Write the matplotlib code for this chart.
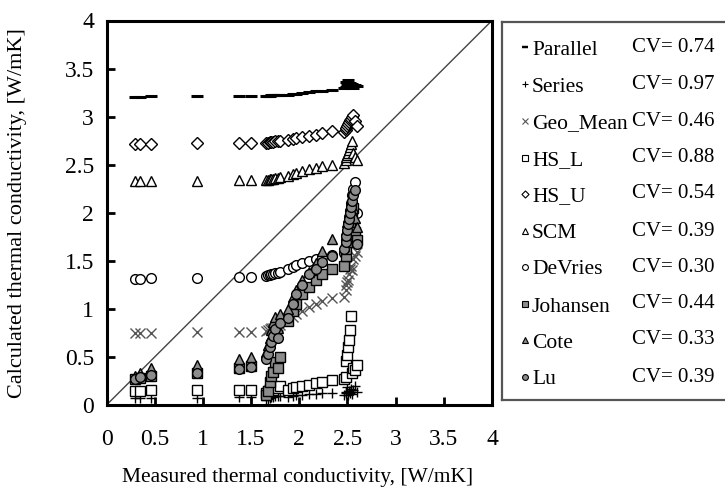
import numpy as np
import matplotlib
matplotlib.use('Agg')
import matplotlib.pyplot as plt

plt.rcParams['font.family'] = ['Liberation Serif', 'DejaVu Serif']

# measured thermal conductivity [W/mK], shared by all models
measured = [0.30, 0.35, 0.46, 0.94, 1.37, 1.50,
            1.66, 1.68, 1.70, 1.71, 1.73, 1.75, 1.78, 1.80,
            1.88, 1.93, 1.97, 2.03, 2.10, 2.17, 2.24, 2.34,
            2.46, 2.48, 2.49, 2.50, 2.51, 2.52, 2.53, 2.54, 2.55, 2.56, 2.58, 2.60]

parallel = [3.20, 3.20, 3.21, 3.21, 3.21, 3.21,
            3.21, 3.21, 3.21, 3.22, 3.22, 3.22, 3.22, 3.22,
            3.23, 3.24, 3.24, 3.25, 3.26, 3.27, 3.27, 3.28,
            3.30, 3.31, 3.36, 3.33, 3.38, 3.32, 3.35, 3.31, 3.34, 3.30, 3.33, 3.32]
series = [0.07, 0.07, 0.07, 0.07, 0.08, 0.08,
          0.05, 0.06, 0.07, 0.08, 0.08, 0.09, 0.09, 0.09,
          0.08, 0.09, 0.10, 0.10, 0.11, 0.11, 0.12, 0.13,
          0.10, 0.12, 0.14, 0.19, 0.10, 0.15, 0.13, 0.17, 0.11, 0.16, 0.20, 0.14]
geo_mean = [0.75, 0.75, 0.75, 0.76, 0.76, 0.76,
            0.77, 0.78, 0.79, 0.80, 0.80, 0.81, 0.82, 0.83,
            0.88, 0.92, 0.95, 0.98, 1.02, 1.05, 1.08, 1.11,
            1.12, 1.20, 1.25, 1.28, 1.30, 1.36, 1.42, 1.45, 1.40, 1.52, 1.55, 1.59]
hs_l = [0.15, 0.15, 0.16, 0.16, 0.16, 0.16,
        0.12, 0.15, 0.17, 0.18, 0.16, 0.19, 0.18, 0.20,
        0.16, 0.18, 0.19, 0.20, 0.21, 0.23, 0.24, 0.26,
        0.27, 0.29, 0.46, 0.52, 0.60, 0.68, 0.78, 0.93, 0.33, 0.39, 0.36, 0.42]
hs_u = [2.72, 2.72, 2.72, 2.73, 2.73, 2.73,
        2.73, 2.73, 2.74, 2.74, 2.74, 2.75, 2.75, 2.75,
        2.76, 2.77, 2.78, 2.79, 2.80, 2.81, 2.83, 2.85,
        2.84, 2.86, 2.88, 2.90, 2.92, 2.94, 2.96, 2.98, 3.00, 3.02, 2.95, 2.90]
scm = [2.33, 2.33, 2.33, 2.33, 2.34, 2.34,
       2.34, 2.34, 2.35, 2.35, 2.35, 2.36, 2.36, 2.37,
       2.38, 2.40, 2.41, 2.43, 2.45, 2.47, 2.49, 2.50,
       2.52, 2.55, 2.58, 2.60, 2.62, 2.65, 2.68, 2.72, 2.75, 2.62, 2.58, 2.55]
devries = [1.31, 1.31, 1.32, 1.32, 1.33, 1.33,
           1.34, 1.35, 1.35, 1.36, 1.36, 1.37, 1.37, 1.38,
           1.41, 1.44, 1.46, 1.48, 1.50, 1.52, 1.54, 1.56,
           1.58, 1.65, 1.72, 1.80, 1.88, 1.95, 2.02, 2.10, 2.18, 2.25, 2.32, 2.00]
johansen = [0.27, 0.28, 0.30, 0.33, 0.38, 0.41,
            0.10, 0.15, 0.24, 0.30, 0.34, 0.45, 0.38, 0.50,
            0.87, 0.98, 1.05, 1.15, 1.23, 1.30, 1.36, 1.42,
            1.45, 1.55, 1.62, 1.70, 1.78, 1.85, 1.90, 1.95, 2.00, 2.05, 1.80, 1.72]
cote = [0.30, 0.33, 0.38, 0.42, 0.48, 0.50,
        0.55, 0.62, 0.70, 0.78, 0.86, 0.92, 0.80, 0.95,
        1.00, 1.12, 1.20, 1.30, 1.38, 1.48, 1.60, 1.73,
        1.65, 1.75, 1.82, 1.90, 1.96, 2.02, 2.08, 2.12, 2.15, 2.05, 1.95, 1.85]
lu = [0.27, 0.29, 0.31, 0.33, 0.37, 0.40,
      0.48, 0.53, 0.60, 0.66, 0.72, 0.79, 0.70, 0.85,
      0.91, 1.05, 1.15, 1.25, 1.36, 1.42, 1.49, 1.55,
      1.62, 1.70, 1.76, 1.82, 1.88, 1.94, 2.00, 2.06, 2.12, 2.18, 2.24, 1.68]

model_names = ['Parallel', 'Series', 'Geo_Mean', 'HS_L', 'HS_U', 'SCM',
               'DeVries', 'Johansen', 'Cote', 'Lu']
cv_values = [0.74, 0.97, 0.46, 0.88, 0.54, 0.39, 0.30, 0.44, 0.33, 0.39]
model_values = [parallel, series, geo_mean, hs_l, hs_u, scm,
                devries, johansen, cote, lu]

GREY = '#8c8c8c'
# marker, size, facecolor, edgecolor, edgewidth
styles = [
    ('_', 8, 'k', 'k', 2.2),
    ('+', 7, 'k', 'k', 1.0),
    ('x', 7, '#555555', '#555555', 1.0),
    ('s', 7, 'white', 'k', 1.0),
    ('D', 6, 'white', 'k', 1.0),
    ('^', 7, 'white', 'k', 1.0),
    ('o', 7, 'white', 'k', 1.0),
    ('s', 7, GREY, 'k', 1.0),
    ('^', 7, GREY, 'k', 1.0),
    ('o', 7, GREY, 'k', 1.0),
]

W, H = 725, 499
fig = plt.figure(figsize=(W/100, H/100), dpi=100)

# main axes, placed in pixel units of the reference
x0, x1, y0, y1 = 106.5, 492, 20.5, 405
ax = fig.add_axes((x0/W, 1 - y1/H, (x1 - x0)/W, (y1 - y0)/H))

ax.plot([0, 4], [0, 4], color='#444444', lw=1.0, zorder=1)

for vals, (mk, ms, fc, ec, mew) in zip(model_values, styles):
    ax.plot(measured, vals, linestyle='none', marker=mk, markersize=ms,
            markerfacecolor=fc, markeredgecolor=ec, markeredgewidth=mew,
            color=ec, zorder=3)

ax.set_xlim(0, 4)
ax.set_ylim(0, 4)
ticks = np.arange(0, 4.01, 0.5)
ax.set_xticks(ticks)
ax.set_yticks(ticks)
ax.set_xticklabels([f'{t:g}' for t in ticks])
ax.set_yticklabels([f'{t:g}' for t in ticks])
ax.tick_params(axis='x', direction='in', length=6, width=2, labelsize=17, pad=17)
ax.tick_params(axis='y', direction='in', length=6, width=2, labelsize=17, pad=9)
for sp in ax.spines.values():
    sp.set_linewidth(2.2)

ax.set_xlabel('Measured thermal conductivity, [W/mK]', fontsize=15.5)
ax.set_ylabel('Calculated thermal conductivity, [W/mK]', fontsize=16)
ax.xaxis.set_label_coords(0.495, -0.165)
ax.yaxis.set_label_coords(-0.205, 0.5)

# table-like legend box, cut off at the right edge like the reference
lx0, ly0, ly1 = 502, 21.7, 400
lax = fig.add_axes((lx0/W, 1 - ly1/H, (760 - lx0)/W, (ly1 - ly0)/H))
lax.set_xlim(lx0, 760)
lax.set_ylim(ly1, ly0)
lax.set_xticks([])
lax.set_yticks([])
for sp in lax.spines.values():
    sp.set_linewidth(1.6)
    sp.set_color('#555555')

row_y = [50, 87, 124, 161, 197, 234, 270, 307, 343, 380]
for name, cv, yy, (mk, ms, fc, ec, mew) in zip(model_names, cv_values, row_y, styles):
    lax.plot([525], [yy - 3], linestyle='none', marker=mk, markersize=ms*0.6,
             markerfacecolor=fc, markeredgecolor=ec, markeredgewidth=mew*0.8,
             color=ec, clip_on=False)
    lax.text(532, yy, name, fontsize=15.5, va='center', ha='left')
    lax.text(632, yy - 3, f'CV= {cv:.2f}', fontsize=15, va='center', ha='left')

fig.savefig('out.png', dpi=100)
